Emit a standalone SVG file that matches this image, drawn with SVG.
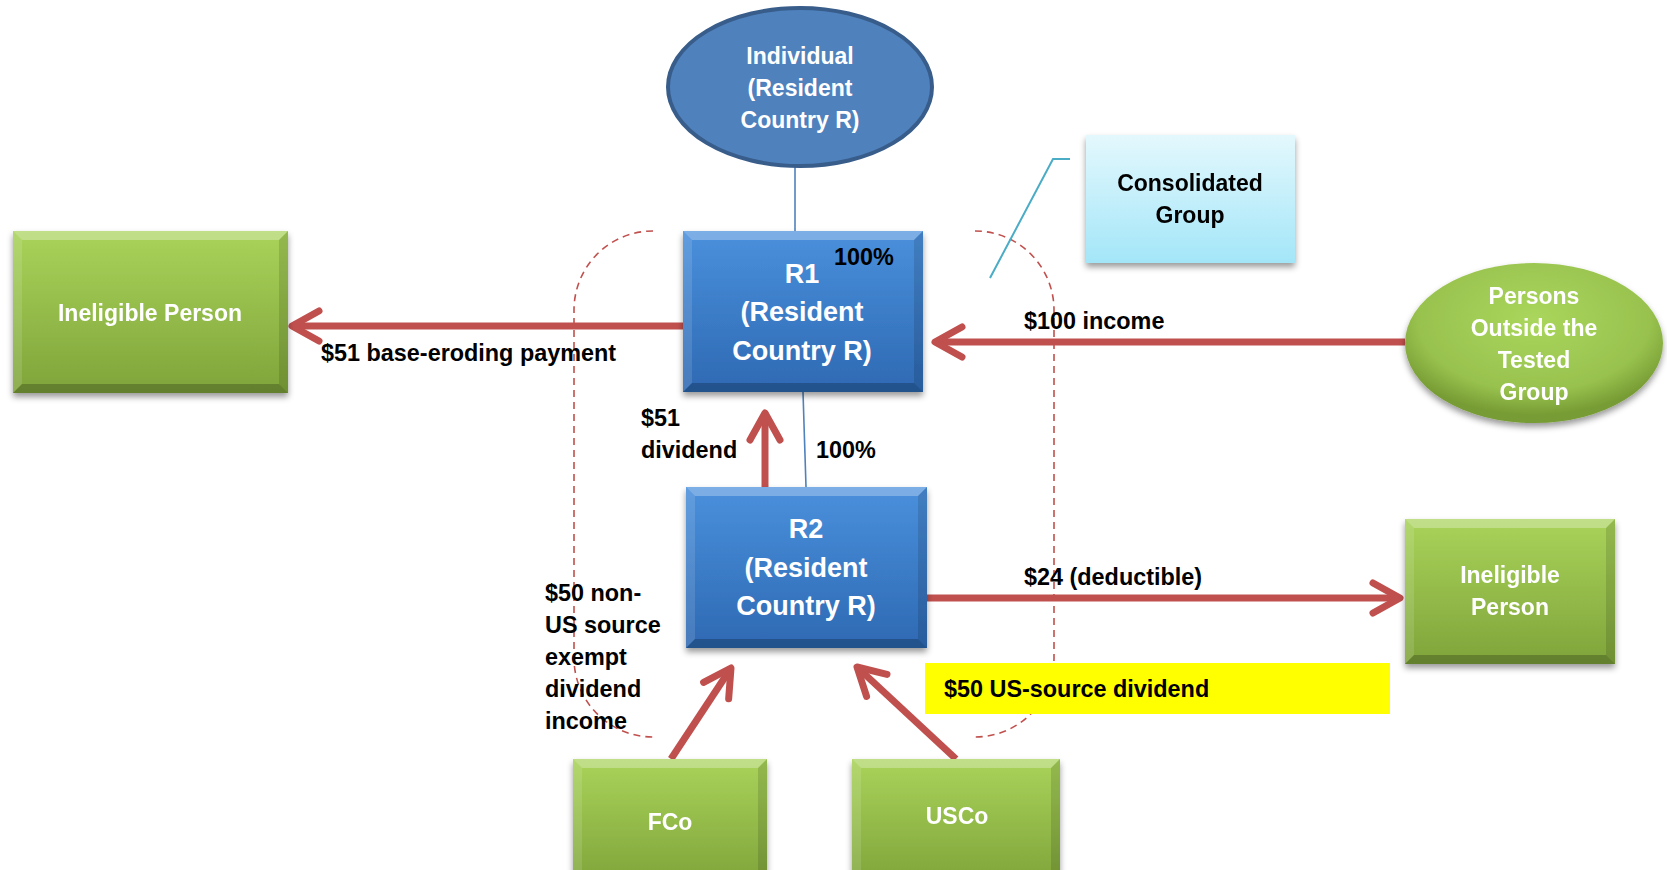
<svg xmlns="http://www.w3.org/2000/svg" width="1667" height="870" viewBox="0 0 1667 870">
  <defs>
    <style>
      .lbl { font-family: "Liberation Sans", Arial, sans-serif; font-weight: bold; font-size: 23.4px; fill: #000; }
      .wt { font-family: "Liberation Sans", Arial, sans-serif; font-weight: bold; font-size: 23px; fill: #fff; text-anchor: middle; }
      .big { font-size: 27px; }
      .dk { fill: #000; }
      .flow { fill: none; stroke: #C0504D; stroke-width: 7; marker-end: url(#open); }
      .thin { fill: none; stroke: #4F81BD; stroke-width: 1.6; }
      .bracket { fill: none; stroke: #C0504D; stroke-width: 1.6; stroke-dasharray: 7 5; }
      .bv-t { fill: #fff; opacity: 0.28; }
      .bv-l { fill: #fff; opacity: 0.12; }
      .bv-b { fill: #000; opacity: 0.22; }
      .bv-r { fill: #000; opacity: 0.12; }
    </style>
    <linearGradient id="gBlue" x1="0" y1="0" x2="0" y2="1">
      <stop offset="0" stop-color="#4A90DC"/>
      <stop offset="1" stop-color="#2E69B3"/>
    </linearGradient>
    <linearGradient id="gGreen" x1="0" y1="0" x2="0" y2="1">
      <stop offset="0" stop-color="#A9D35A"/>
      <stop offset="1" stop-color="#7FA43A"/>
    </linearGradient>
    <linearGradient id="gCyan" x1="0" y1="0" x2="0" y2="1">
      <stop offset="0" stop-color="#E4F8FD"/>
      <stop offset="1" stop-color="#A3E6F8"/>
    </linearGradient>
    <radialGradient id="gOval" cx="0.5" cy="0.35" r="0.6">
      <stop offset="0" stop-color="#AAD65C"/>
      <stop offset="0.75" stop-color="#98C24E"/>
      <stop offset="1" stop-color="#779C34"/>
    </radialGradient>
    <filter id="shadow" x="-10%" y="-10%" width="120%" height="130%">
      <feGaussianBlur in="SourceAlpha" stdDeviation="3"/>
      <feOffset dy="4" result="b"/>
      <feFlood flood-color="#000" flood-opacity="0.4"/>
      <feComposite in2="b" operator="in"/>
      <feMerge>
        <feMergeNode/>
        <feMergeNode in="SourceGraphic"/>
      </feMerge>
    </filter>
    <marker id="open" markerUnits="userSpaceOnUse" viewBox="-40 -25 50 50" refX="0" refY="0" markerWidth="50" markerHeight="50" orient="auto" overflow="visible">
      <path d="M -27,-15 L 0,0 L -27,15" fill="none" stroke="#C0504D" stroke-width="7" stroke-linecap="round" stroke-linejoin="round"/>
    </marker>
  </defs>

  <rect width="1667" height="870" fill="#fff"/>

  <!-- consolidated group boundary: a pair of rounded brackets -->
  <g id="group-boundary">
    <path class="bracket" d="M 653,231 A 79,79 0 0 0 574,310 L 574,658 A 79,79 0 0 0 653,737"/>
    <path class="bracket" d="M 975,231 A 79,79 0 0 1 1054,310 L 1054,658 A 79,79 0 0 1 975,737"/>
  </g>

  <!-- ownership lines and callout leader -->
  <g id="connectors">
    <line class="thin" x1="795" y1="166" x2="795" y2="231"/>
    <line class="thin" x1="803" y1="392" x2="806" y2="487"/>
    <polyline points="990,278 1053,159 1070,159" fill="none" stroke="#4BACC6" stroke-width="2"/>

    <!-- payment flows -->
    <line class="flow" x1="683" y1="326" x2="292" y2="326"/>
    <line class="flow" x1="1405" y1="342" x2="935" y2="342"/>
    <line class="flow" x1="765" y1="487" x2="765" y2="413"/>
    <line class="flow" x1="927" y1="598" x2="1400" y2="598"/>
    <line class="flow" x1="671" y1="759" x2="731" y2="668"/>
    <line class="flow" x1="956" y1="759" x2="857" y2="667"/>
  </g>

  <!-- Individual (Resident Country R) -->
  <g id="individual">
    <ellipse cx="800" cy="87" rx="132" ry="79" fill="#4F81BD" stroke="#385D8A" stroke-width="4"/>
    <text class="wt" x="800" y="64">Individual</text>
    <text class="wt" x="800" y="96">(Resident</text>
    <text class="wt" x="800" y="128">Country R)</text>
  </g>

  <!-- R1 -->
  <g id="r1" filter="url(#shadow)">
    <rect x="683" y="231" width="240" height="161" fill="url(#gBlue)"/>
    <polygon class="bv-t" points="683,231 923,231 914,240 692,240"/>
    <polygon class="bv-l" points="683,231 692,240 692,383 683,392"/>
    <polygon class="bv-b" points="683,392 923,392 914,383 692,383"/>
    <polygon class="bv-r" points="923,231 923,392 914,383 914,240"/>
  </g>
  <g id="r1-text">
    <text class="wt big" x="802" y="283">R1</text>
    <text class="wt big" x="802" y="321">(Resident</text>
    <text class="wt big" x="802" y="360">Country R)</text>
  </g>

  <!-- R2 -->
  <g id="r2" filter="url(#shadow)">
    <rect x="686" y="487" width="241" height="161" fill="url(#gBlue)"/>
    <polygon class="bv-t" points="686,487 927,487 918,496 695,496"/>
    <polygon class="bv-l" points="686,487 695,496 695,639 686,648"/>
    <polygon class="bv-b" points="686,648 927,648 918,639 695,639"/>
    <polygon class="bv-r" points="927,487 927,648 918,639 918,496"/>
  </g>
  <g id="r2-text">
    <text class="wt big" x="806" y="538">R2</text>
    <text class="wt big" x="806" y="577">(Resident</text>
    <text class="wt big" x="806" y="615">Country R)</text>
  </g>

  <!-- Ineligible Person (left) -->
  <g id="ineligible-left" filter="url(#shadow)">
    <rect x="13" y="231" width="275" height="162" fill="url(#gGreen)"/>
    <polygon class="bv-t" points="13,231 288,231 279,240 22,240"/>
    <polygon class="bv-l" points="13,231 22,240 22,384 13,393"/>
    <polygon class="bv-b" points="13,393 288,393 279,384 22,384"/>
    <polygon class="bv-r" points="288,231 288,393 279,384 279,240"/>
    <text class="wt" x="150" y="321">Ineligible Person</text>
  </g>

  <!-- Consolidated Group label box -->
  <g id="consolidated-group" filter="url(#shadow)">
    <rect x="1086" y="135" width="209" height="128" fill="url(#gCyan)"/>
    <text class="wt dk" x="1190" y="191">Consolidated</text>
    <text class="wt dk" x="1190" y="223">Group</text>
  </g>

  <!-- Persons Outside the Tested Group -->
  <g id="persons-outside" filter="url(#shadow)">
    <ellipse cx="1534" cy="343" rx="129" ry="80" fill="url(#gOval)"/>
    <text class="wt" x="1534" y="304">Persons</text>
    <text class="wt" x="1534" y="336">Outside the</text>
    <text class="wt" x="1534" y="368">Tested</text>
    <text class="wt" x="1534" y="400">Group</text>
  </g>

  <!-- Ineligible Person (right) -->
  <g id="ineligible-right" filter="url(#shadow)">
    <rect x="1405" y="519" width="210" height="145" fill="url(#gGreen)"/>
    <polygon class="bv-t" points="1405,519 1615,519 1606,528 1414,528"/>
    <polygon class="bv-l" points="1405,519 1414,528 1414,655 1405,664"/>
    <polygon class="bv-b" points="1405,664 1615,664 1606,655 1414,655"/>
    <polygon class="bv-r" points="1615,519 1615,664 1606,655 1606,528"/>
    <text class="wt" x="1510" y="583">Ineligible</text>
    <text class="wt" x="1510" y="615">Person</text>
  </g>

  <!-- FCo -->
  <g id="fco" filter="url(#shadow)">
    <rect x="573" y="759" width="194" height="125" fill="url(#gGreen)"/>
    <polygon class="bv-t" points="573,759 767,759 758,768 582,768"/>
    <polygon class="bv-l" points="573,759 582,768 582,884 573,884"/>
    <polygon class="bv-r" points="767,759 767,884 758,884 758,768"/>
    <text class="wt" x="670" y="830">FCo</text>
  </g>

  <!-- USCo -->
  <g id="usco" filter="url(#shadow)">
    <rect x="852" y="759" width="208" height="125" fill="url(#gGreen)"/>
    <polygon class="bv-t" points="852,759 1060,759 1051,768 861,768"/>
    <polygon class="bv-l" points="852,759 861,768 861,884 852,884"/>
    <polygon class="bv-r" points="1060,759 1060,884 1051,884 1051,768"/>
    <text class="wt" x="957" y="824">USCo</text>
  </g>

  <!-- US-source dividend highlight -->
  <g id="us-dividend-note">
    <rect x="925" y="663" width="465" height="51" fill="#FFFF00"/>
    <text class="lbl" x="944" y="697">$50 US-source dividend</text>
  </g>

  <!-- flow and ownership labels -->
  <g id="labels">
    <text class="lbl" x="834" y="265">100%</text>
    <text class="lbl" x="321" y="361">$51 base-eroding payment</text>
    <text class="lbl" x="1024" y="329">$100 income</text>
    <text class="lbl" x="641" y="426">$51</text>
    <text class="lbl" x="641" y="458">dividend</text>
    <text class="lbl" x="816" y="458">100%</text>
    <text class="lbl" x="1024" y="585">$24 (deductible)</text>
    <text class="lbl" x="545" y="601">$50 non-</text>
    <text class="lbl" x="545" y="633">US source</text>
    <text class="lbl" x="545" y="665">exempt</text>
    <text class="lbl" x="545" y="697">dividend</text>
    <text class="lbl" x="545" y="729">income</text>
  </g>
</svg>
